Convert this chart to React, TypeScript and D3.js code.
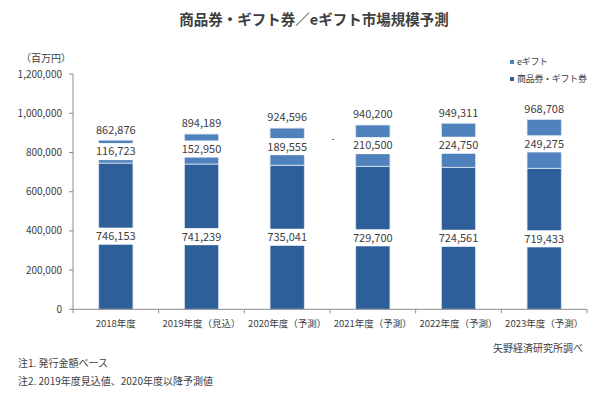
import React from "react";
import * as d3 from "d3";

// 年度
const years = ["2018年度", "2019年度（見込）", "2020年度（予測）", "2021年度（予測）", "2022年度（予測）", "2023年度（予測）"];
// 商品券・ギフト券 (百万円)
const giftCards = [746153, 741239, 735041, 729700, 724561, 719433];
// eギフト (百万円)
const eGifts = [116723, 152950, 189555, 210500, 224750, 249275];
// 合計
const totals = [862876, 894189, 924596, 940200, 949311, 968708];
const yTicks = [0, 200000, 400000, 600000, 800000, 1000000, 1200000];

const seriesNames = ["商品券・ギフト券", "eギフト"];
const colors = ["#2f5f98", "#4f81bd"];
const textColor = "#404040";
const axisColor = "#8c8c8c";
const font = "'Noto Sans CJK JP', 'Noto Sans', sans-serif";

const W = 600,
    H = 394;
const left = 73,
    right = 587,
    top = 74.1,
    bottom = 309.3;

export default function App() {
    const x = d3.scaleBand<string>().domain(years).range([left, right]).paddingInner(0.6).paddingOuter(0.3);
    const y = d3.scaleLinear().domain([0, 1200000]).range([bottom, top]);
    const step = x.step();
    const bw = x.bandwidth();

    const rows = years.map((yr, i) => ({ year: yr, gift: giftCards[i], egift: eGifts[i] }));
    const stack = d3.stack<any>().keys(["gift", "egift"]);
    const layers = stack(rows);
    const fmt = d3.format(",");

    return (
        <svg width={W} height={H} style={{ position: "absolute", left: 0, top: 0, background: "#fff" }} fontFamily={font}>
            {/* title */}
            <text x={314} y={25} textAnchor="middle" fontSize={14.5} fontWeight="bold" fill={textColor}>
                商品券・ギフト券／eギフト市場規模予測
            </text>
            <text x={46} y={61.5} textAnchor="middle" fontSize={10} fill={textColor}>
                （百万円）
            </text>

            {/* y axis */}
            <line x1={left} x2={left} y1={top} y2={bottom} stroke={axisColor} />
            {yTicks.map((t) => (
                <g key={t}>
                    <line x1={left - 4} x2={left} y1={y(t)} y2={y(t)} stroke={axisColor} />
                    <text x={62} y={y(t)} dy="0.35em" textAnchor="end" fontSize={10} fill={textColor}>
                        {fmt(t)}
                    </text>
                </g>
            ))}

            {/* bars */}
            {layers.map((layer, li) =>
                layer.map((d, i) => (
                    <rect
                        key={li + "-" + i}
                        x={x(years[i])}
                        y={y(d[1])}
                        width={bw}
                        height={y(d[0]) - y(d[1])}
                        fill={colors[li]}
                        stroke="#dce6f2"
                        strokeWidth={0.8}
                    />
                ))
            )}

            {/* segment labels with white boxes */}
            {layers.map((layer, li) =>
                layer.map((d, i) => {
                    const cy = (y(d[0]) + y(d[1])) / 2;
                    const cx = (x(years[i]) as number) + bw / 2;
                    return (
                        <g key={"l" + li + "-" + i}>
                            <rect x={cx - bw / 2 - 1} y={cy - 8.5} width={bw + 2} height={17} fill="#fff" />
                            <text x={cx} y={cy} dy="0.35em" textAnchor="middle" fontSize={11} fill={textColor}>
                                {fmt(d[1] - d[0])}
                            </text>
                        </g>
                    );
                })
            )}

            {/* totals */}
            {totals.map((t, i) => (
                <text
                    key={"t" + i}
                    x={(x(years[i]) as number) + bw / 2}
                    y={y(t) - 10.5}
                    dy="0.35em"
                    textAnchor="middle"
                    fontSize={11}
                    fill={textColor}
                >
                    {fmt(t)}
                </text>
            ))}

            {/* stray dash */}
            <text x={left + step * 3 + 3} y={y(870000)} dy="0.35em" textAnchor="middle" fontSize={9} fill={textColor}>
                -
            </text>

            {/* x axis */}
            <line x1={left} x2={right} y1={bottom} y2={bottom} stroke={axisColor} />
            {d3.range(years.length + 1).map((i) => (
                <line key={"xt" + i} x1={left + i * step} x2={left + i * step} y1={bottom} y2={bottom + 4} stroke={axisColor} />
            ))}
            {years.map((yr) => (
                <text
                    key={yr}
                    x={(x(yr) as number) + bw / 2}
                    y={324}
                    dy="0.35em"
                    textAnchor="middle"
                    fontSize={9.5}
                    fill={textColor}
                >
                    {yr}
                </text>
            ))}

            {/* legend */}
            {[1, 0].map((si, k) => (
                <g key={"lg" + si}>
                    <rect x={510} y={60 + k * 17} width={4} height={4} fill={colors[si]} />
                    <text x={517} y={62 + k * 17} dy="0.35em" fontSize={9} letterSpacing={-0.3} fill={textColor}>
                        {seriesNames[si]}
                    </text>
                </g>
            ))}

            {/* source + notes */}
            <text x={583} y={348} dy="0.35em" textAnchor="end" fontSize={10} fill={textColor}>
                矢野経済研究所調べ
            </text>
            <text x={18} y={363} dy="0.35em" fontSize={10} fill={textColor}>
                注1. 発行金額ベース
            </text>
            <text x={18} y={381} dy="0.35em" fontSize={10} fill={textColor}>
                注2. 2019年度見込値、2020年度以降予測値
            </text>
        </svg>
    );
}
